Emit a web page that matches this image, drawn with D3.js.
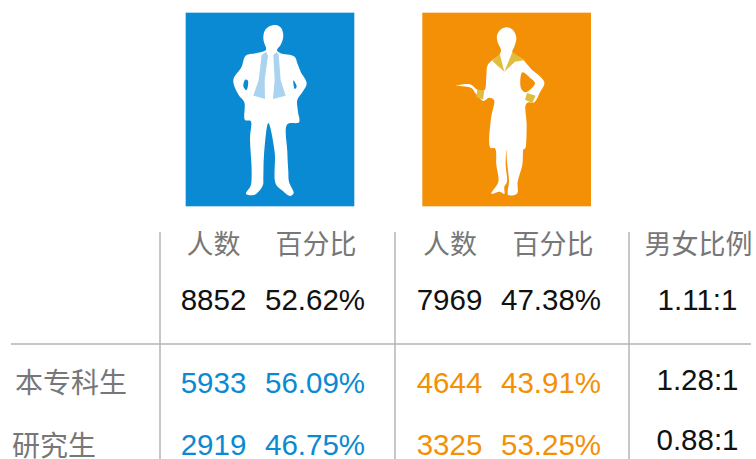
<!DOCTYPE html>
<html>
<head>
<meta charset="utf-8">
<script src="https://cdnjs.cloudflare.com/ajax/libs/d3/7.8.5/d3.min.js"></script>
<style>
html,body{margin:0;padding:0;background:#fff;overflow:hidden}
text{font-family:"Liberation Sans",Arial,sans-serif}
.cjk{font-family:"Noto Sans CJK SC",sans-serif}
</style>
</head>
<body>
<div class="plot"></div>
<script>
// table data, first row is the overall total
let rowLabels = ["", "本专科生", "研究生"]
let maleCount = ["8852", "5933", "2919"]
let malePct = ["52.62%", "56.09%", "46.75%"]
let femaleCount = ["7969", "4644", "3325"]
let femalePct = ["47.38%", "43.91%", "53.25%"]
let ratio = ["1.11:1", "1.28:1", "0.88:1"]
let headers = ["人数", "百分比", "人数", "百分比", "男女比例"]

let blue = "#0a8ad2", orange = "#f39005", grey = "#777777"

let svg = d3.select(".plot").append("svg")
  .attr("width", 756)
  .attr("height", 459)
  .style("display", "block")

// row and column positions
let y = d3.scaleOrdinal().domain([0, 1, 2]).range([310, 393, 455])
let yRatio = d3.scaleOrdinal().domain([0, 1, 2]).range([310, 390, 450])
let headerX = [213.5, 316, 450, 553, 698.5]

// icons, outlines traced in zoomed pixels (3x)
let smooth = d3.line().curve(d3.curveCatmullRomClosed.alpha(0.5))
function icon(x0){
  return svg.append("g").attr("transform", "translate(" + x0 + ",5) scale(0.3333)")
}
function blob(g, pts, color){
  g.append("path").attr("fill", color).attr("d", smooth(pts))
}

let man = icon(180)
man.append("rect").attr("x", 17).attr("y", 23).attr("width", 506).attr("height", 581).attr("fill", blue)
blob(man, [[258,134],[252,112],[250,98],[254,78],[268,64],[288,60],[303,68],[310,92],[303,118],[291,136],[300,144],
  [344,155],[352,175],[362,200],[380,235],[368,260],[352,285],[354,320],[357,352],[322,358],[322,440],[325,500],[327,530],
  [341,565],[330,573],[306,556],[287,536],[284,440],[265,354],[252,450],[250,515],[248,542],[222,570],[198,566],[212,542],
  [215,500],[210,400],[212,348],[195,345],[193,292],[176,270],[160,225],[185,185],[197,152],[230,144]], "#fff")
blob(man, [[196,224],[204,228],[199,256],[190,244]], blue)
blob(man, [[340,226],[350,245],[344,252]], blue)
man.append("path").attr("fill", "#a9d3ee").attr("d",
  "M245,150 L258,140 L264,152 L254,225 L255,282 L220,272 L236,225 Z")
man.append("path").attr("fill", "#a9d3ee").attr("d",
  "M280,150 L290,142 L296,150 L302,225 L317,272 L279,282 L284,225 Z")

let woman = icon(415)
woman.append("rect").attr("x", 22).attr("y", 23).attr("width", 506).attr("height", 581).attr("fill", orange)
blob(woman, [[258,135],[248,112],[246,92],[256,74],[275,67],[293,74],[304,98],[298,125],[292,142],[325,165],[345,188],
  [388,232],[375,262],[358,292],[340,292],[332,300],[335,360],[330,432],[326,432],[322,480],[308,530],[306,566],[280,570],
  [278,560],[282,530],[276,470],[274,434],[272,480],[276,530],[268,545],[268,567],[255,560],[229,566],[250,530],[244,480],
  [240,430],[226,428],[228,340],[237,285],[222,278],[205,288],[184,268],[168,248],[124,242],[165,238],[187,254],[208,256],
  [214,215],[218,180],[240,160],[255,146]], "#fff")
blob(woman, [[322,202],[345,218],[360,235],[332,262],[318,250]], orange)
woman.append("path").attr("fill", "#e0bd3c").attr("d", "M254,146 L268,200 L232,168 Z")
woman.append("path").attr("fill", "#e0bd3c").attr("d", "M292,142 L330,165 L300,170 L268,200 Z")
woman.append("path").attr("fill", "#e0bd3c").attr("d", "M187,254 L208,258 L204,284 L184,276 Z")
woman.append("path").attr("fill", "#e0bd3c").attr("d", "M336,264 L362,272 L352,294 L330,284 Z")

// grid lines
let lineColor = "#b5b5b5"
svg.selectAll(".vline").data([160, 395, 629]).enter().append("line")
  .attr("class", "vline")
  .attr("x1", d => d).attr("x2", d => d)
  .attr("y1", 232).attr("y2", 459)
  .attr("stroke", lineColor).attr("stroke-width", 1.5)
svg.append("line")
  .attr("x1", 11).attr("x2", 751).attr("y1", 344).attr("y2", 344)
  .attr("stroke", lineColor).attr("stroke-width", 1.5)

// header row
svg.selectAll(".head").data(headers).enter().append("text")
  .attr("class", "head cjk")
  .attr("x", (d, i) => headerX[i])
  .attr("y", 254)
  .attr("text-anchor", "middle")
  .attr("font-size", 27)
  .attr("fill", grey)
  .text(d => d)

// row labels
svg.selectAll(".rowlabel").data(rowLabels.slice(1)).enter().append("text")
  .attr("class", "rowlabel cjk")
  .attr("x", (d, i) => i == 0 ? 15 : 12)
  .attr("y", (d, i) => i == 0 ? 393 : 456)
  .attr("font-size", 28)
  .attr("fill", grey)
  .text(d => d)

function column(values, x, color, pos){
  svg.selectAll(null).data(values).enter().append("text")
    .attr("x", x)
    .attr("y", (d, i) => pos(i))
    .attr("text-anchor", "middle")
    .attr("font-size", 29.5)
    .attr("fill", (d, i) => i == 0 ? "#111111" : color)
    .text(d => d)
}

column(maleCount, 213.5, blue, y)
column(malePct, 315, blue, y)
column(femaleCount, 449.5, orange, y)
column(femalePct, 551, orange, y)
column(ratio, 697.5, "#111111", yRatio)
</script>
</body>
</html>
